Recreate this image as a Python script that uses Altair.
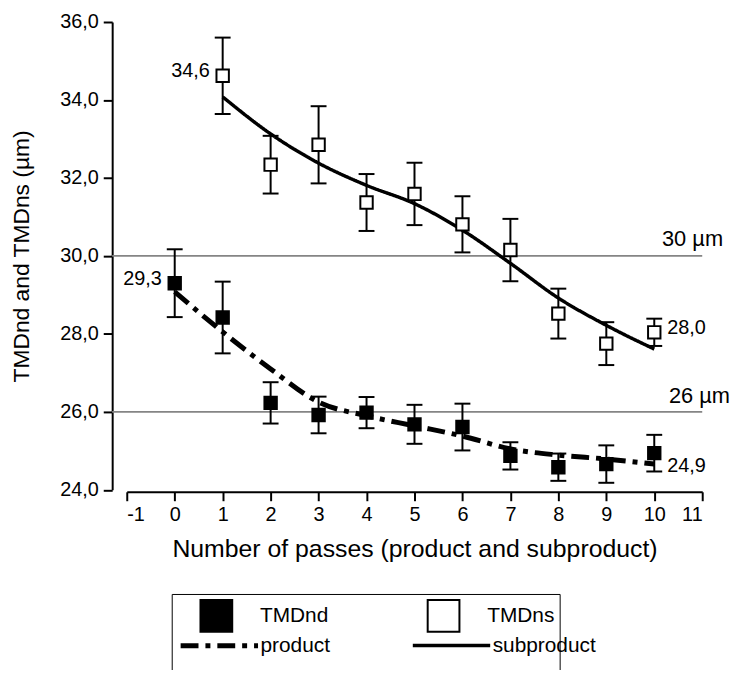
import altair as alt
import pandas as pd

# ---------------- data ----------------
x_ticks = list(range(-1, 12))
y_ticks = [24, 26, 28, 30, 32, 34, 36]

nd_passes = [0, 1, 2, 3, 4, 5, 6, 7, 8, 9, 10]
nd_mean = [29.30, 28.42, 26.23, 25.92, 25.98, 25.68, 25.61, 24.87, 24.58, 24.66, 24.94]
nd_err = [0.87, 0.92, 0.53, 0.47, 0.40, 0.50, 0.60, 0.35, 0.35, 0.48, 0.47]

ns_passes = [1, 2, 3, 4, 5, 6, 7, 8, 9, 10]
ns_mean = [34.62, 32.34, 32.85, 31.37, 31.59, 30.81, 30.15, 28.52, 27.75, 28.04]
ns_err = [0.98, 0.74, 0.99, 0.73, 0.80, 0.72, 0.80, 0.64, 0.55, 0.35]

product_x = [0, 1, 2, 3, 4, 5, 6, 7, 8, 9, 10]
product_fit = [29.08, 28.05, 27.10, 26.25, 25.90, 25.64, 25.38, 25.05, 24.89, 24.79, 24.66]
subproduct_x = [1, 2, 3, 4, 5, 6, 7, 8, 9, 10]
subproduct_fit = [34.08, 33.13, 32.38, 31.81, 31.34, 30.66, 29.81, 28.92, 28.22, 27.61]

ref_values = [30, 26]
ref_labels = ["30 µm", "26 µm"]

point_series = ["TMDnd", "TMDns"]
line_series = ["product", "subproduct"]

# ---------------- tables ----------------
pts = pd.DataFrame({
    "pass": nd_passes + ns_passes,
    "mean": nd_mean + ns_mean,
    "err": nd_err + ns_err,
    "series": [point_series[0]] * len(nd_passes) + [point_series[1]] * len(ns_passes),
})
pts["lo"] = pts["mean"] - pts["err"]
pts["hi"] = pts["mean"] + pts["err"]

fits = pd.DataFrame({
    "pass": product_x + subproduct_x,
    "fit": product_fit + subproduct_fit,
    "series": [line_series[0]] * len(product_x) + [line_series[1]] * len(subproduct_x),
})
ref_df = pd.DataFrame({"v": ref_values, "label": ref_labels})

lab_left = pd.DataFrame({"pass": [ns_passes[0], nd_passes[0]], "mean": [ns_mean[0], nd_mean[0]]})
lab_r_ns = pd.DataFrame({"pass": [ns_passes[-1]], "mean": [ns_mean[-1]]})
lab_r_nd = pd.DataFrame({"pass": [nd_passes[-1]], "mean": [nd_mean[-1]]})

FONT = "Arial"
W, H = 580, 471.5

def xenc(field):
    return alt.X(field, type="quantitative",
                 scale=alt.Scale(domain=[-1, 11], nice=False, zero=False),
                 axis=alt.Axis(values=x_ticks, labelExpr="'' + datum.value",
                               title="Number of passes (product and subproduct)"))

def yenc(field):
    return alt.Y(field, type="quantitative",
                 scale=alt.Scale(domain=[24, 36], nice=False, zero=False),
                 axis=alt.Axis(values=y_ticks,
                               labelExpr="replace(format(datum.value, '.1f'), '.', ',')",
                               title="TMDnd and TMDns (µm)"))

# legend for the squares: carries the framed box
legend_pts = alt.Legend(
    orient="none", legendX=45.3, legendY=576.5, direction="horizontal", columns=2,
    symbolSize=1024, symbolStrokeWidth=2, symbolOpacity=1,
    labelFontSize=21, labelFont=FONT, labelColor="black",
    symbolOffset=23, labelOffset=27, labelLimit=300, columnPadding=76,
    padding=5, strokeColor="black",
    title="\u00a0" * 80, titleLimit=800, titleOrient="bottom", titleFontSize=21, titlePadding=30,
)
# legend for the fitted lines, placed inside the same frame
legend_lines = alt.Legend(
    orient="none", legendX=51.8, legendY=587, direction="horizontal", columns=2,
    symbolSize=6084, symbolOpacity=1, symbolStrokeColor="black",
    labelFontSize=21, labelFont=FONT, labelColor="black",
    labelOffset=0, labelLimit=300, columnPadding=75, padding=0, title=None,
)

ref_rules = alt.Chart(ref_df).mark_rule(color="#858585", strokeWidth=1.6).encode(
    y=yenc("v"), x=alt.value(-14.7), x2=alt.value(W))

ref_t30 = alt.Chart(ref_df.iloc[[0]]).mark_text(
    align="right", baseline="alphabetic", dx=21, dy=-10, fontSize=22, font=FONT, color="black"
).encode(x=alt.value(W), y=yenc("v"), text="label:N")
ref_t26 = alt.Chart(ref_df.iloc[[1]]).mark_text(
    align="right", baseline="alphabetic", dx=28, dy=-9, fontSize=22, font=FONT, color="black"
).encode(x=alt.value(W), y=yenc("v"), text="label:N")

err_rule = alt.Chart(pts).mark_rule(color="black", strokeWidth=2).encode(
    x=xenc("pass"), y=yenc("lo"), y2="hi")
cap_hi = alt.Chart(pts).mark_rule(color="black", strokeWidth=2, xOffset=-8, x2Offset=8).encode(
    x=xenc("pass"), x2="pass", y=yenc("hi"))
cap_lo = alt.Chart(pts).mark_rule(color="black", strokeWidth=2, xOffset=-8, x2Offset=8).encode(
    x=xenc("pass"), x2="pass", y=yenc("lo"))

fit_lines = alt.Chart(fits).mark_line(color="black", interpolate="monotone").encode(
    x=xenc("pass"), y=yenc("fit"),
    strokeDash=alt.StrokeDash("series:N", scale=alt.Scale(domain=line_series,
                              range=[[18, 7, 5, 7], [1, 0]]), legend=legend_lines),
    strokeWidth=alt.StrokeWidth("series:N", scale=alt.Scale(domain=line_series,
                                range=[5, 3.5]), legend=legend_lines),
)

points = alt.Chart(pts).mark_point(
    shape="square", filled=True, stroke="black", strokeWidth=2, size=156, opacity=1
).encode(
    x=xenc("pass"), y=yenc("mean"),
    fill=alt.Fill("series:N", scale=alt.Scale(domain=point_series,
                  range=["black", "white"]), legend=legend_pts),
)

lbl_expr = "replace(format(datum.mean, '.1f'), '.', ',')"
t_left = alt.Chart(lab_left).transform_calculate(txt=lbl_expr).mark_text(
    align="right", baseline="middle", dx=-13, dy=-4.5, fontSize=20, font=FONT, color="black"
).encode(x=xenc("pass"), y=yenc("mean"), text="txt:N")
t_r_ns = alt.Chart(lab_r_ns).transform_calculate(txt=lbl_expr).mark_text(
    align="left", baseline="middle", dx=13, dy=-4, fontSize=20, font=FONT, color="black"
).encode(x=xenc("pass"), y=yenc("mean"), text="txt:N")
t_r_nd = alt.Chart(lab_r_nd).transform_calculate(txt=lbl_expr).mark_text(
    align="left", baseline="middle", dx=13, dy=13, fontSize=20, font=FONT, color="black"
).encode(x=xenc("pass"), y=yenc("mean"), text="txt:N")

chart = alt.layer(
    ref_rules, ref_t30, ref_t26, err_rule, cap_hi, cap_lo, fit_lines,
    points, t_left, t_r_ns, t_r_nd
).resolve_legend(
    fill="independent", strokeDash="independent", strokeWidth="independent"
).properties(
    width=W, height=H,
    autosize=alt.AutoSizeParams(type="none"),
    padding={"left": 119.7, "top": 11.5, "right": 28, "bottom": 179},
).configure_view(stroke=None).configure_axis(
    labelFont=FONT, titleFont=FONT, labelColor="black", titleColor="black",
    domainColor="black", tickColor="black", domainWidth=2, tickWidth=2, tickSize=9,
    grid=False, titleFontWeight="normal", labelFontSize=20,
).configure_axisX(
    offset=2, labelPadding=4, titlePadding=12, titleFontSize=25,
).configure_axisY(
    offset=14.7, labelPadding=5, titlePadding=26, titleFontSize=23,
)

chart.save("out.html", embed_options={"renderer": "svg", "actions": False})
